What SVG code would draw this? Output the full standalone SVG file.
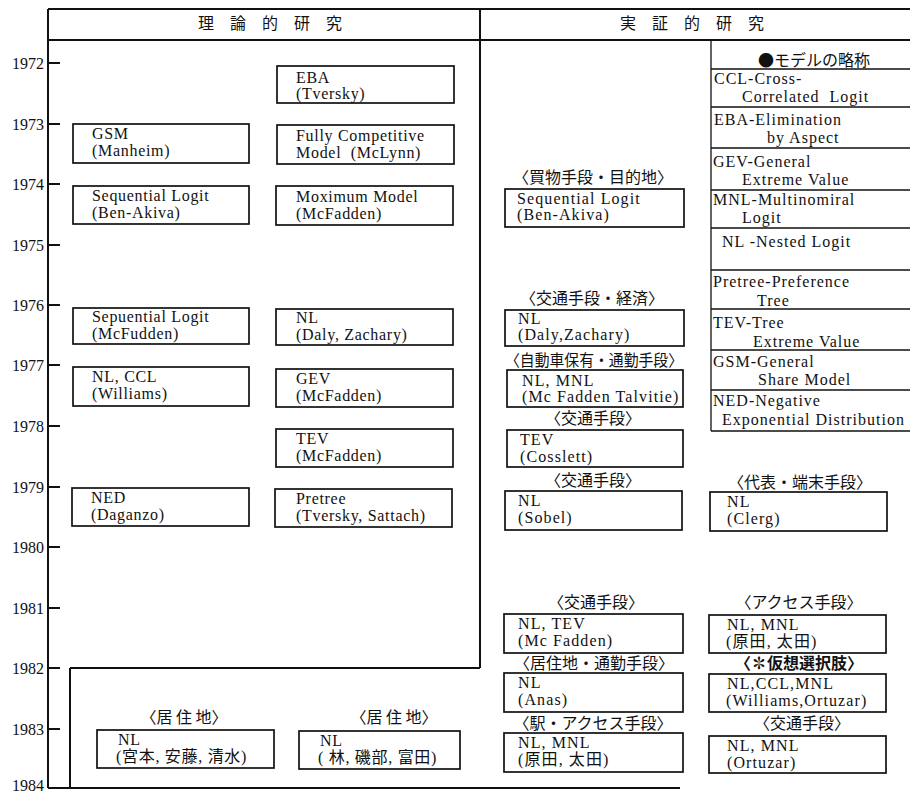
<svg xmlns="http://www.w3.org/2000/svg" width="910" height="794" viewBox="0 0 910 794">
<style>
.ln{stroke:#111;stroke-width:2;fill:none}
.tl{stroke:#111;stroke-width:1.3;fill:none}
.box{fill:none;stroke:#111;stroke-width:1.7}
text{font-family:'Liberation Serif','Noto Sans CJK JP',serif;fill:#111}
.t{font-size:16px;letter-spacing:0.7px}
.e{font-size:16px;letter-spacing:1.1px}
.lab{font-family:'Noto Sans CJK JP',sans-serif;font-size:16px;text-anchor:middle}
.yr{font-size:16px;text-anchor:end}
.tab{font-size:16px;letter-spacing:1px}
.hd{font-family:'Noto Sans CJK JP',sans-serif;font-size:16px;letter-spacing:16px}
</style>
<rect width="910" height="794" fill="#fff"/>
<g id="frame">
<path class="ln" d="M48,9H910M48,40H910M48,9V788M480,9V668M70,668H480M70,668V788M48,788H680"/>
</g>
<g id="axis">
<path class="ln" d="M48,63H60M48,124H60M48,184H60M48,245H60M48,305H60M48,365H60M48,426H60M48,487H60M48,547H60M48,608H60M48,668H60M48,729H60"/>
<text class="yr" x="44" y="69">1972</text>
<text class="yr" x="44" y="130">1973</text>
<text class="yr" x="44" y="190">1974</text>
<text class="yr" x="44" y="251">1975</text>
<text class="yr" x="44" y="311">1976</text>
<text class="yr" x="44" y="371">1977</text>
<text class="yr" x="44" y="432">1978</text>
<text class="yr" x="44" y="493">1979</text>
<text class="yr" x="44" y="553">1980</text>
<text class="yr" x="44" y="614">1981</text>
<text class="yr" x="44" y="674">1982</text>
<text class="yr" x="44" y="735">1983</text>
<text class="yr" x="44" y="791">1984</text>
</g>
<g id="headers">
<text class="hd" x="198" y="29">理論的研究</text>
<text class="hd" x="620" y="29">実証的研究</text>
</g>
<g id="legend">
<path class="tl" d="M711,40V431M711,69H910M711,107H910M711,148H910M711,190H910M711,228H910M711,270H910M711,309H910M711,350H910M711,390H910M711,431H910"/>
<text class="lab" x="814" y="66">●モデルの略称</text>
<text class="tab" x="714" y="84">CCL-Cross-</text>
<text class="tab" x="742" y="102" xml:space="preserve">Correlated  Logit</text>
<text class="tab" x="714" y="125">EBA-Elimination</text>
<text class="tab" x="767" y="143">by Aspect</text>
<text class="tab" x="713" y="167">GEV-General</text>
<text class="tab" x="742" y="185">Extreme Value</text>
<text class="tab" x="713" y="205">MNL-Multinomiral</text>
<text class="tab" x="742" y="223">Logit</text>
<text class="tab" x="722" y="247">NL -Nested Logit</text>
<text class="tab" x="713" y="287">Pretree-Preference</text>
<text class="tab" x="757" y="306">Tree</text>
<text class="tab" x="713" y="328">TEV-Tree</text>
<text class="tab" x="753" y="347">Extreme Value</text>
<text class="tab" x="713" y="367">GSM-General</text>
<text class="tab" x="758" y="385">Share Model</text>
<text class="tab" x="713" y="406">NED-Negative</text>
<text class="tab" x="722" y="425" textLength="183" lengthAdjust="spacing">Exponential Distribution</text>
</g>
<g id="t-eba"><rect class="box" x="277" y="66" width="177" height="37"/><text class="t" x="296" y="83">EBA</text><text class="t" x="296" y="99">(Tversky)</text></g>
<g id="t-gsm"><rect class="box" x="73" y="124" width="176" height="39"/><text class="t" x="92" y="139">GSM</text><text class="t" x="92" y="156">(Manheim)</text></g>
<g id="t-fcm"><rect class="box" x="277" y="125" width="177" height="39"/><text class="t" x="296" y="141">Fully Competitive</text><text class="t" x="296" y="158" xml:space="preserve">Model  (McLynn)</text></g>
<g id="t-seq-ba"><rect class="box" x="73" y="186" width="176" height="38"/><text class="t" x="92" y="201">Sequential Logit</text><text class="t" x="92" y="218">(Ben-Akiva)</text></g>
<g id="t-max"><rect class="box" x="276" y="186" width="177" height="39"/><text class="t" x="296" y="202">Moximum Model</text><text class="t" x="296" y="219">(McFadden)</text></g>
<g id="t-seq-mcf"><rect class="box" x="73" y="308" width="176" height="36"/><text class="t" x="92" y="322">Sepuential Logit</text><text class="t" x="92" y="339">(McFudden)</text></g>
<g id="t-nl-daly"><rect class="box" x="276" y="309" width="177" height="36"/><text class="t" x="296" y="323">NL</text><text class="t" x="296" y="340">(Daly, Zachary)</text></g>
<g id="t-nlccl"><rect class="box" x="73" y="367" width="176" height="39"/><text class="t" x="92" y="382">NL, CCL</text><text class="t" x="92" y="399">(Williams)</text></g>
<g id="t-gev"><rect class="box" x="276" y="369" width="177" height="38"/><text class="t" x="296" y="384">GEV</text><text class="t" x="296" y="401">(McFadden)</text></g>
<g id="t-tev"><rect class="box" x="276" y="429" width="177" height="38"/><text class="t" x="296" y="444">TEV</text><text class="t" x="296" y="461">(McFadden)</text></g>
<g id="t-ned"><rect class="box" x="72" y="488" width="177" height="38"/><text class="t" x="91" y="503">NED</text><text class="t" x="91" y="520">(Daganzo)</text></g>
<g id="t-pretree"><rect class="box" x="275" y="489" width="177" height="38"/><text class="t" x="296" y="504">Pretree</text><text class="t" x="296" y="521">(Tversky, Sattach)</text></g>
<g id="r-1"><text class="lab" x="184" y="723" xml:space="preserve">〈居 住 地〉</text><rect class="box" x="97" y="730" width="177" height="38"/><text class="t" x="118" y="745">NL</text><text class="t" x="116" y="762">(宮本, 安藤, 清水)</text></g>
<g id="r-2"><text class="lab" x="394" y="723" xml:space="preserve">〈居 住 地〉</text><rect class="box" x="299" y="731" width="161" height="38"/><text class="t" x="320" y="746">NL</text><text class="t" x="318" y="763" xml:space="preserve">( 林, 磯部, 富田)</text></g>
<g id="e-1"><text class="lab" x="593" y="183">〈買物手段・目的地〉</text><rect class="box" x="505" y="189" width="179" height="38"/><text class="e" x="517" y="204">Sequential Logit</text><text class="e" x="517" y="220">(Ben-Akiva)</text></g>
<g id="e-2"><text class="lab" x="592" y="304">〈交通手段・経済〉</text><rect class="box" x="505" y="310" width="179" height="36"/><text class="e" x="518" y="324">NL</text><text class="e" x="518" y="340">(Daly,Zachary)</text></g>
<g id="e-3"><text class="lab" x="594" y="366" textLength="178" lengthAdjust="spacingAndGlyphs">〈自動車保有・通勤手段〉</text><rect class="box" x="507" y="370" width="176" height="37"/><text class="e" x="522" y="386">NL, MNL</text><text class="e" x="522" y="402">(Mc Fadden Talvitie)</text></g>
<g id="e-4"><text class="lab" x="593" y="424">〈交通手段〉</text><rect class="box" x="507" y="430" width="176" height="37"/><text class="e" x="520" y="445">TEV</text><text class="e" x="520" y="462">(Cosslett)</text></g>
<g id="e-5"><text class="lab" x="593" y="486">〈交通手段〉</text><rect class="box" x="505" y="491" width="177" height="39"/><text class="e" x="518" y="506">NL</text><text class="e" x="518" y="523">(Sobel)</text></g>
<g id="e-6"><text class="lab" x="800" y="488">〈代表・端末手段〉</text><rect class="box" x="710" y="492" width="177" height="39"/><text class="e" x="727" y="507">NL</text><text class="e" x="727" y="524">(Clerg)</text></g>
<g id="e-7"><text class="lab" x="596" y="608">〈交通手段〉</text><rect class="box" x="504" y="614" width="179" height="39"/><text class="e" x="518" y="629">NL, TEV</text><text class="e" x="518" y="646">(Mc Fadden)</text></g>
<g id="e-8"><text class="lab" x="799" y="608">〈アクセス手段〉</text><rect class="box" x="709" y="615" width="177" height="38"/><text class="e" x="727" y="630">NL, MNL</text><text class="e" x="726" y="647">(原田, 太田)</text></g>
<g id="e-9"><text class="lab" x="594" y="669">〈居住地・通勤手段〉</text><rect class="box" x="504" y="673" width="179" height="39"/><text class="e" x="518" y="688">NL</text><text class="e" x="518" y="705">(Anas)</text></g>
<g id="e-10"><text class="lab" x="799" y="669" font-weight="bold">〈✽仮想選択肢〉</text><rect class="box" x="709" y="674" width="177" height="38"/><text class="e" x="727" y="689">NL,CCL,MNL</text><text class="e" x="726" y="706">(Williams,Ortuzar)</text></g>
<g id="e-11"><text class="lab" x="593" y="729">〈駅・アクセス手段〉</text><rect class="box" x="504" y="733" width="179" height="39"/><text class="e" x="518" y="748">NL, MNL</text><text class="e" x="518" y="765">(原田, 太田)</text></g>
<g id="e-12"><text class="lab" x="802" y="729">〈交通手段〉</text><rect class="box" x="709" y="736" width="177" height="37"/><text class="e" x="727" y="751">NL, MNL</text><text class="e" x="727" y="768">(Ortuzar)</text></g>
</svg>
